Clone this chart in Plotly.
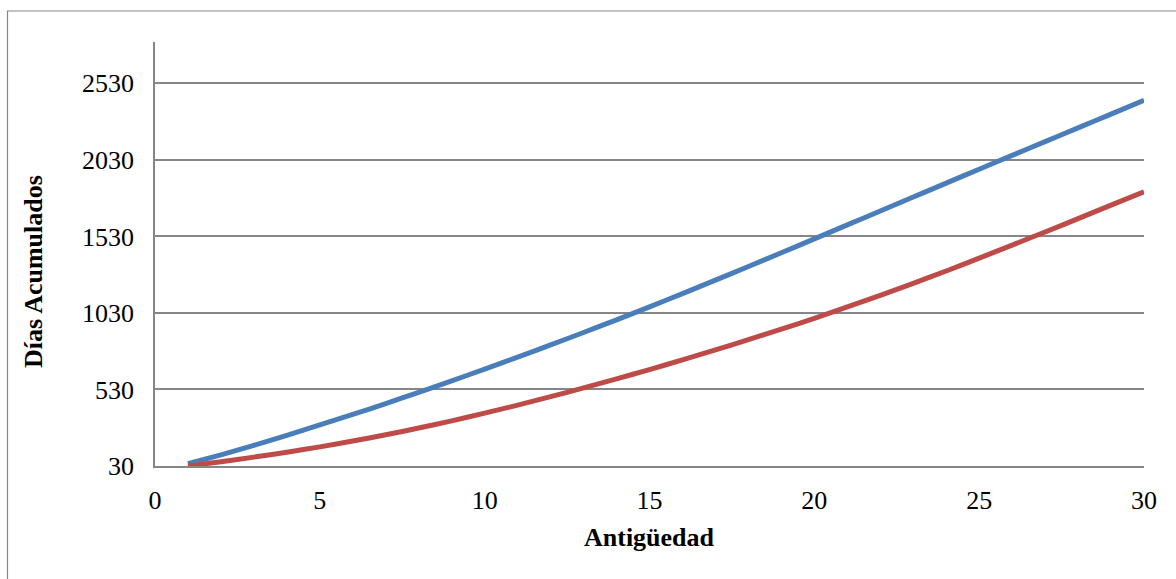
import plotly.graph_objects as go

# Años de antigüedad
anios = list(range(1, 31))

# Días acumulados por año de antigüedad
dias_serie_azul = [45, 103, 165, 230, 298, 367, 438, 511, 586, 663,
                   741, 821, 902, 985, 1070, 1156, 1244, 1333, 1423, 1514,
                   1605, 1696, 1787, 1878, 1969, 2059, 2149, 2239, 2329, 2419]
dias_serie_roja = [30, 58, 88, 120, 155, 193, 234, 278, 325, 375,
                   428, 483, 540, 599, 660, 723, 788, 855, 924, 995,
                   1069, 1145, 1223, 1304, 1388, 1473, 1559, 1646, 1734, 1822]

y_ticks = [30, 530, 1030, 1530, 2030, 2530]
x_ticks = [0, 5, 10, 15, 20, 25, 30]

AZUL = "#4A7EBB"
ROJO = "#BE4B48"
GRIS = "#868686"
FUENTE = "Liberation Serif, Times New Roman, serif"

W, H = 1176, 579
L, R, T, B = 155, 32, 42, 113
plot_w = W - L - R
plot_h = H - T - B

fig = go.Figure()
fig.add_trace(go.Scatter(x=anios, y=dias_serie_azul, mode="lines",
                         line=dict(color=AZUL, width=5, shape="spline", smoothing=0.6),
                         showlegend=False))
fig.add_trace(go.Scatter(x=anios, y=dias_serie_roja, mode="lines",
                         line=dict(color=ROJO, width=5, shape="spline", smoothing=0.6),
                         showlegend=False))

fig.update_layout(
    width=W, height=H,
    margin=dict(l=L, r=R, t=T, b=B, pad=0),
    paper_bgcolor="white", plot_bgcolor="white",
    font=dict(family=FUENTE, size=26, color="black"),
    xaxis=dict(range=[0, 30], tickvals=x_ticks, showgrid=False, zeroline=False,
               showline=True, linecolor=GRIS, linewidth=1.5,
               ticks="", ticklabelstandoff=10,
               tickfont=dict(family=FUENTE, size=26)),
    yaxis=dict(range=[30, 2800], tickvals=y_ticks, showgrid=True, gridcolor=GRIS,
               gridwidth=1.5, zeroline=False, showline=True, linecolor=GRIS,
               linewidth=1.5, ticks="", ticklabelstandoff=14,
               tickfont=dict(family=FUENTE, size=26)),
    annotations=[
        dict(text="<b>Antigüedad</b>", xref="paper", yref="paper",
             x=0.5, y=-(537 - (H - B)) / plot_h, xanchor="center", yanchor="middle",
             showarrow=False, font=dict(family=FUENTE, size=26)),
        dict(text="<b>Días Acumulados</b>", xref="paper", yref="paper",
             x=(33 - L) / plot_w, y=((H - B) - 272) / plot_h, xanchor="center",
             yanchor="middle", textangle=-90, showarrow=False,
             font=dict(family=FUENTE, size=26)),
    ],
    shapes=[
        dict(type="rect", xref="paper", yref="paper",
             x0=(7.5 - L) / plot_w, x1=(W + 5 - L) / plot_w,
             y0=((H - B) - (H + 5)) / plot_h, y1=((H - B) - 11) / plot_h,
             line=dict(color=GRIS, width=1.2), fillcolor="rgba(0,0,0,0)",
             layer="below"),
    ],
)

fig.write_html("out.html")
